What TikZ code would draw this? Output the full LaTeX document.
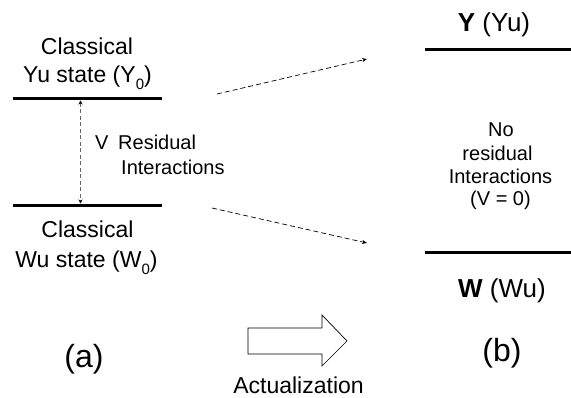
\documentclass[tikz,border=0pt]{standalone}
\usepackage{fontspec}
\setmainfont{Liberation Sans}
\usetikzlibrary{arrows.meta}
\newcommand{\lowsub}[1]{\raisebox{-0.3em}{\fontsize{15}{15}\selectfont #1}}
\begin{document}
\begin{tikzpicture}[x=1pt,y=-1pt,
  txt/.style={inner sep=0pt, anchor=base, font=\fontsize{23}{28}\selectfont},
  small/.style={inner sep=0pt, anchor=base, font=\fontsize{20}{24}\selectfont},
  big/.style={inner sep=0pt, anchor=base, font=\fontsize{26}{30}\selectfont},
  huge/.style={inner sep=0pt, anchor=base, font=\fontsize{32}{36}\selectfont},
  level/.style={line width=3pt},
  dasharrow/.style={dashed, dash pattern=on 5pt off 3pt, line width=0.7pt, -{Stealth[length=5pt,width=4pt]}},
  vdash/.style={dashed, dash pattern=on 4pt off 2.5pt, line width=0.8pt, draw=black!60,
     {Stealth[length=4pt,width=4pt,black]}-{Stealth[length=4pt,width=4pt,black]}}]
\useasboundingbox (0,0) rectangle (571,398);
% levels
\coordinate (ya) at (13,98.5);  \coordinate (yb) at (162,98.5);
\coordinate (wa) at (13,205.5); \coordinate (wb) at (162,205.5);
\coordinate (Ya) at (425,50);   \coordinate (Yb) at (571,50);
\coordinate (Wa) at (425,253);  \coordinate (Wb) at (571,253);
\draw[level] (ya) -- (yb);
\draw[level] (wa) -- (wb);
\draw[level] (Ya) -- (Yb);
\draw[level] (Wa) -- (Wb);
% left texts
\node[txt] (c1) at (87,55) {Classical};
\node[txt] (y0) at (87.5,83) {Yu state (Y\lowsub{0})};
\node[txt] (c2) at (87.5,238) {Classical};
\node[txt] (w0) at (86.5,268) {Wu state (W\lowsub{0})};
\node[small, anchor=base west] (v) at (95,150) {V};
\node[small, anchor=base west] (res) at (118,150) {Residual};
\node[small, anchor=base west] (int) at (121,175) {Interactions};
% vertical arrow
\coordinate (vt) at (80.5,100.5);
\coordinate (vb) at (80.5,203.5);
\draw[vdash] (vt) -- (vb);
% right texts
\node[big] (Y) at (494,32) {\textbf{Y} (Yu)};
\node[big] (W) at (502,298) {\textbf{W} (Wu)};
\node[small] (no) at (501,137) {No};
\node[small] (rs) at (497.5,160.5) {residual};
\node[small] (in) at (500.5,184) {Interactions};
\node[small] (v0) at (500.5,206) {(V = 0)};
% diagonal arrows
\coordinate (d1s) at (217,94);  \coordinate (d1e) at (367,59);
\coordinate (d2s) at (212,208); \coordinate (d2e) at (367,243);
\draw[dasharrow] (d1s) -- (d1e);
\draw[dasharrow] (d2s) -- (d2e);
% labels
\node[huge] (a) at (84,367) {(a)};
\node[huge] (b) at (502,362) {(b)};
\node[txt] (act) at (298.5,393) {Actualization};
% block arrow
\draw[line width=0.7pt, line join=miter] (248,328) -- (322,328) -- (322,315) -- (347,341) -- (322,366) -- (322,354) -- (248,354) -- cycle;
\end{tikzpicture}
\end{document}
